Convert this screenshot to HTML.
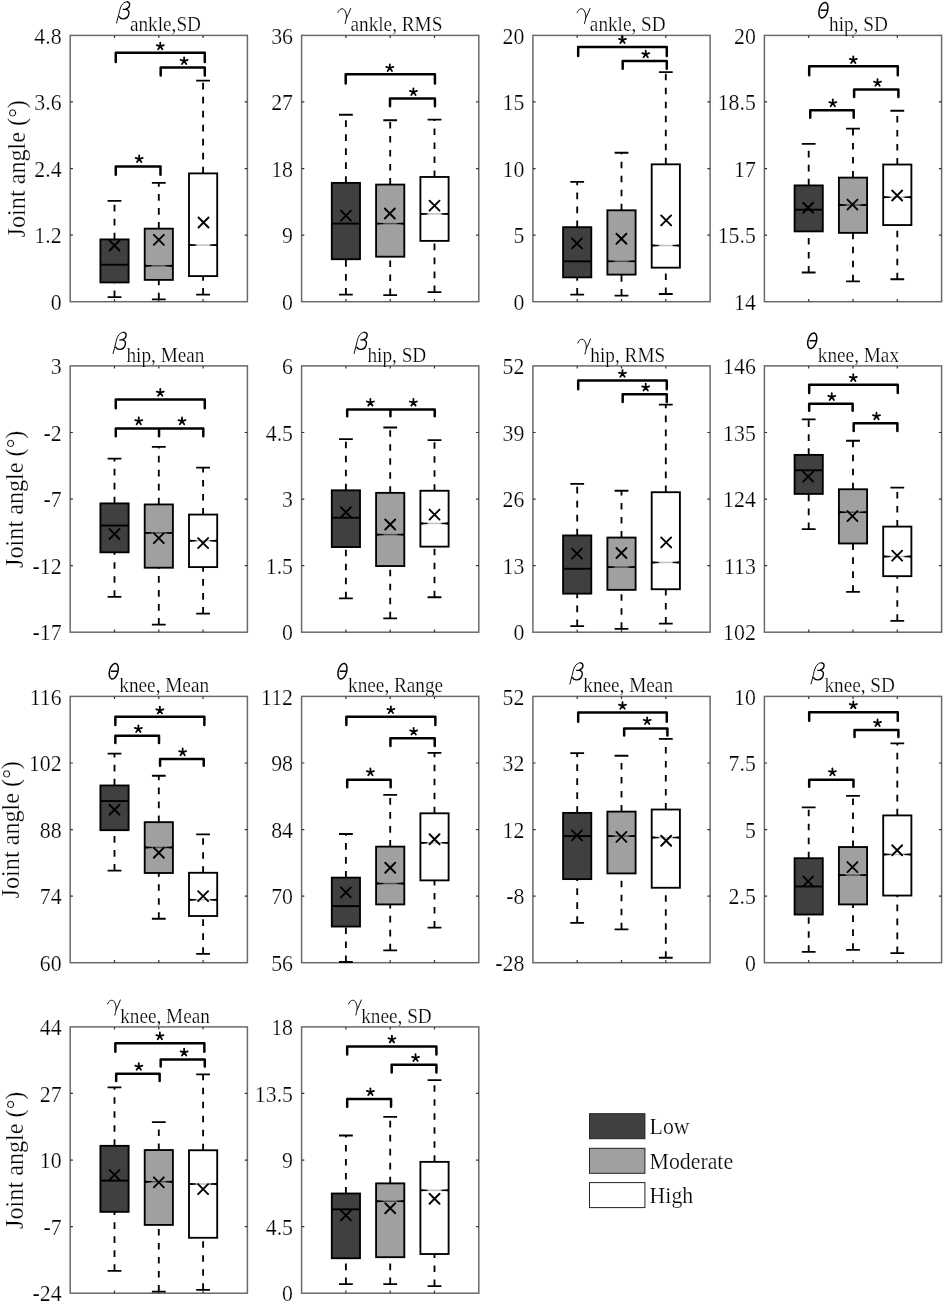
<!DOCTYPE html>
<html><head><meta charset="utf-8"><style>
html,body{margin:0;padding:0;background:#fff;}
svg{display:block;will-change:transform;}
text{font-family:"Liberation Serif",serif;fill:#000;stroke:#fff;stroke-width:0.22px;paint-order:fill stroke;}
.tl{font-size:21.8px;text-anchor:end;}
.sb{font-size:19.25px;}
.yl{font-size:24.2px;text-anchor:middle;}
.lg{font-size:21.8px;}
.wh{stroke:#000;stroke-width:1.85;stroke-dasharray:6.6 7.4;fill:none;}
.cap{stroke:#000;stroke-width:1.8;fill:none;}
.bx{stroke:#000;stroke-width:1.85;}
.md{stroke-width:1.5;fill:none;}
.mk{stroke:#000;stroke-width:1.9;fill:none;stroke-linecap:round;}
.br{stroke:#000;stroke-width:2.5;fill:none;stroke-linejoin:round;stroke-linecap:round;}
</style></head><body>
<svg width="944" height="1304" viewBox="0 0 944 1304">
<defs><path id="star" d="M0 0L0 -3.7M0 0L3.52 -1.14M0 0L2.17 2.99M0 0L-2.17 2.99M0 0L-3.52 -1.14" stroke="#000" stroke-width="1.8" stroke-linecap="round" fill="none"/><linearGradient id="m0" x1="0" x2="1" y1="0" y2="0"><stop offset="0" stop-color="#000"/><stop offset="0.2" stop-color="#000"/><stop offset="0.3" stop-color="#000000"/><stop offset="0.7" stop-color="#000000"/><stop offset="0.8" stop-color="#000"/><stop offset="1" stop-color="#000"/></linearGradient><linearGradient id="m1" x1="0" x2="1" y1="0" y2="0"><stop offset="0" stop-color="#000"/><stop offset="0.2" stop-color="#000"/><stop offset="0.3" stop-color="#505050"/><stop offset="0.7" stop-color="#505050"/><stop offset="0.8" stop-color="#000"/><stop offset="1" stop-color="#000"/></linearGradient><linearGradient id="m2" x1="0" x2="1" y1="0" y2="0"><stop offset="0" stop-color="#000"/><stop offset="0.2" stop-color="#000"/><stop offset="0.3" stop-color="#c0c0c0"/><stop offset="0.7" stop-color="#c0c0c0"/><stop offset="0.8" stop-color="#000"/><stop offset="1" stop-color="#000"/></linearGradient><g id="g_b" fill="none" stroke="#000" stroke-linecap="round"><path d="M0 4.8L2.44 -4.7C3.24 -8.7 4.24 -12.2 6.04 -14.2C7.54 -15.8 9.34 -16.6 10.84 -16.4" stroke-width="0.95"/><path d="M10.84 -16.4C12.34 -16.2 13.24 -15.0 13.04 -13.2C12.84 -11.2 11.34 -9.6 9.24 -9.0L6.84 -8.8M9.54 -8.9C11.64 -8.4 12.64 -6.9 12.34 -4.9C12.04 -2.4 10.24 0.1 7.34 0.6C5.44 0.9 3.64 0.2 2.64 -1.6" stroke-width="1.35"/></g>
<path id="g_g" d="M0 -5.7C1.2 -9.2 4.5 -10.8 6.8 -8.0C8.3 -5.5 8.8 -2.5 8.5 0C8.2 2.0 7.6 3.8 7.2 5.3M12.75 -9.7C11.5 -6.5 10.0 -3.0 8.5 0" fill="none" stroke="#000" stroke-width="0.95" stroke-linecap="round"/>
<g id="g_t" fill="none" stroke="#000" stroke-width="1.5"><ellipse cx="5.3" cy="-7.95" rx="4.2" ry="8.0" transform="rotate(15.4 5.3 -7.95)"/><path d="M2.5 -8H9.3"/></g></defs>
<rect x="70.2" y="35.4" width="177.2" height="266.3" fill="none" stroke="#6a6a6a" stroke-width="1.5"/>
<path d="M114.5 35.4v2.7M114.5 301.7v-2.7M158.8 35.4v2.7M158.8 301.7v-2.7M203.1 35.4v2.7M203.1 301.7v-2.7M70.2 235.12h2.7M247.4 235.12h-2.7M70.2 168.55h2.7M247.4 168.55h-2.7M70.2 101.97h2.7M247.4 101.97h-2.7" stroke="#333" stroke-width="1.2" fill="none"/>
<text transform="translate(61.6 309.9) scale(1 1.06)" class="tl">0</text>
<text transform="translate(61.6 243.32) scale(1 1.06)" class="tl">1.2</text>
<text transform="translate(61.6 176.75) scale(1 1.06)" class="tl">2.4</text>
<text transform="translate(61.6 110.17) scale(1 1.06)" class="tl">3.6</text>
<text transform="translate(61.6 43.6) scale(1 1.06)" class="tl">4.8</text>
<use href="#g_b" x="116.55" y="18.2"/>
<text transform="translate(129.95 31.1) scale(1 1.05)" class="sb">ankle,SD</text>
<path d="M114.5 239.41V200.81 M114.5 297.19V282.43" class="wh"/>
<path d="M107.6 200.81h13.8 M107.6 297.19h13.8" class="cap"/>
<rect x="100.4" y="239.41" width="28.2" height="43.02" fill="#404040" class="bx"/>
<rect x="100.4" y="263.76" width="28.2" height="1.9" fill="url(#m0)"/>
<path d="M109.51 240.52l10 10M109.51 250.52l10 -10" class="mk"/>
<path d="M158.8 228.65V182.89 M158.8 299.3V279.89" class="wh"/>
<path d="M151.9 182.89h13.8 M151.9 299.3h13.8" class="cap"/>
<rect x="144.7" y="228.65" width="28.2" height="51.24" fill="#a0a0a0" class="bx"/>
<rect x="144.7" y="265.02" width="28.2" height="1.5" fill="url(#m1)"/>
<path d="M144.7 264.57v2.4l7.5 -1.2ZM172.9 264.57v2.4l-7.5 -1.2Z" fill="#000"/>
<path d="M153.81 234.83l10 10M153.81 244.83l10 -10" class="mk"/>
<path d="M203.1 173.4V80.61 M203.1 294.66V276.1" class="wh"/>
<path d="M196.2 80.61h13.8 M196.2 294.66h13.8" class="cap"/>
<rect x="189" y="173.4" width="28.2" height="102.7" fill="#ffffff" class="bx"/>
<rect x="189" y="244.35" width="28.2" height="1.5" fill="url(#m2)"/>
<path d="M189 243.9v2.4l7.5 -1.2ZM217.2 243.9v2.4l-7.5 -1.2Z" fill="#000"/>
<path d="M198.52 217.53l10 10M198.52 227.53l10 -10" class="mk"/>
<path d="M115.77 61.89V52.64H204.78V61.89" class="br"/>
<path d="M160.69 75.59V67.4H204.78V75.59" class="br"/>
<path d="M115.77 174.71V166.52H160.48V174.71" class="br"/>
<use href="#star" x="160.28" y="46.27"/>
<use href="#star" x="184.12" y="61.03"/>
<use href="#star" x="139.19" y="159.09"/>
<rect x="301.6" y="35.4" width="177.2" height="266.3" fill="none" stroke="#6a6a6a" stroke-width="1.5"/>
<path d="M345.9 35.4v2.7M345.9 301.7v-2.7M390.2 35.4v2.7M390.2 301.7v-2.7M434.5 35.4v2.7M434.5 301.7v-2.7M301.6 235.12h2.7M478.8 235.12h-2.7M301.6 168.55h2.7M478.8 168.55h-2.7M301.6 101.97h2.7M478.8 101.97h-2.7" stroke="#333" stroke-width="1.2" fill="none"/>
<text transform="translate(293 309.9) scale(1 1.06)" class="tl">0</text>
<text transform="translate(293 243.32) scale(1 1.06)" class="tl">9</text>
<text transform="translate(293 176.75) scale(1 1.06)" class="tl">18</text>
<text transform="translate(293 110.17) scale(1 1.06)" class="tl">27</text>
<text transform="translate(293 43.6) scale(1 1.06)" class="tl">36</text>
<use href="#g_g" x="337.91" y="18.2"/>
<text transform="translate(350.51 31.1) scale(1 1.05)" class="sb">ankle, RMS</text>
<path d="M345.9 182.89V114.77 M345.9 294.66V259.23" class="wh"/>
<path d="M339 114.77h13.8 M339 294.66h13.8" class="cap"/>
<rect x="331.8" y="182.89" width="28.2" height="76.34" fill="#404040" class="bx"/>
<rect x="331.8" y="222.64" width="28.2" height="1.9" fill="url(#m0)"/>
<path d="M340.93 210.58l10 10M340.93 220.58l10 -10" class="mk"/>
<path d="M390.2 184.58V120.26 M390.2 295.08V256.7" class="wh"/>
<path d="M383.3 120.26h13.8 M383.3 295.08h13.8" class="cap"/>
<rect x="376.1" y="184.58" width="28.2" height="72.12" fill="#a0a0a0" class="bx"/>
<rect x="376.1" y="222.84" width="28.2" height="1.5" fill="url(#m1)"/>
<path d="M376.1 222.39v2.4l7.5 -1.2ZM404.3 222.39v2.4l-7.5 -1.2Z" fill="#000"/>
<path d="M384.81 208.47l10 10M384.81 218.47l10 -10" class="mk"/>
<path d="M434.5 176.98V119.62 M434.5 292.13V240.88" class="wh"/>
<path d="M427.6 119.62h13.8 M427.6 292.13h13.8" class="cap"/>
<rect x="420.4" y="176.98" width="28.2" height="63.9" fill="#ffffff" class="bx"/>
<rect x="420.4" y="213.14" width="28.2" height="1.5" fill="url(#m2)"/>
<path d="M420.4 212.69v2.4l7.5 -1.2ZM448.6 212.69v2.4l-7.5 -1.2Z" fill="#000"/>
<path d="M429.52 200.66l10 10M429.52 210.66l10 -10" class="mk"/>
<path d="M345.71 83.61V74.36H434.93V83.61" class="br"/>
<path d="M390.01 106.17V98.4H434.93V106.17" class="br"/>
<use href="#star" x="389.81" y="67.99"/>
<use href="#star" x="413.43" y="92.03"/>
<rect x="532.9" y="35.4" width="177.2" height="266.3" fill="none" stroke="#6a6a6a" stroke-width="1.5"/>
<path d="M577.2 35.4v2.7M577.2 301.7v-2.7M621.5 35.4v2.7M621.5 301.7v-2.7M665.8 35.4v2.7M665.8 301.7v-2.7M532.9 235.12h2.7M710.1 235.12h-2.7M532.9 168.55h2.7M710.1 168.55h-2.7M532.9 101.97h2.7M710.1 101.97h-2.7" stroke="#333" stroke-width="1.2" fill="none"/>
<text transform="translate(524.3 309.9) scale(1 1.06)" class="tl">0</text>
<text transform="translate(524.3 243.32) scale(1 1.06)" class="tl">5</text>
<text transform="translate(524.3 176.75) scale(1 1.06)" class="tl">10</text>
<text transform="translate(524.3 110.17) scale(1 1.06)" class="tl">15</text>
<text transform="translate(524.3 43.6) scale(1 1.06)" class="tl">20</text>
<use href="#g_g" x="577.24" y="18.2"/>
<text transform="translate(589.84 31.1) scale(1 1.05)" class="sb">ankle, SD</text>
<path d="M577.2 227.17V181.83 M577.2 294.66V277.36" class="wh"/>
<path d="M570.3 181.83h13.8 M570.3 294.66h13.8" class="cap"/>
<rect x="563.1" y="227.17" width="28.2" height="50.19" fill="#404040" class="bx"/>
<rect x="563.1" y="260.39" width="28.2" height="1.9" fill="url(#m0)"/>
<path d="M571.93 238.41l10 10M571.93 248.41l10 -10" class="mk"/>
<path d="M621.5 210.3V152.73 M621.5 295.71V274.62" class="wh"/>
<path d="M614.6 152.73h13.8 M614.6 295.71h13.8" class="cap"/>
<rect x="607.4" y="210.3" width="28.2" height="64.32" fill="#a0a0a0" class="bx"/>
<rect x="607.4" y="260.59" width="28.2" height="1.5" fill="url(#m1)"/>
<path d="M607.4 260.14v2.4l7.5 -1.2ZM635.6 260.14v2.4l-7.5 -1.2Z" fill="#000"/>
<path d="M616.44 233.77l10 10M616.44 243.77l10 -10" class="mk"/>
<path d="M665.8 164.33V72.18 M665.8 294.02V267.66" class="wh"/>
<path d="M658.9 72.18h13.8 M658.9 294.02h13.8" class="cap"/>
<rect x="651.7" y="164.33" width="28.2" height="103.33" fill="#ffffff" class="bx"/>
<rect x="651.7" y="244.77" width="28.2" height="1.5" fill="url(#m2)"/>
<path d="M651.7 244.32v2.4l7.5 -1.2ZM679.9 244.32v2.4l-7.5 -1.2Z" fill="#000"/>
<path d="M661.16 215.43l10 10M661.16 225.43l10 -10" class="mk"/>
<path d="M578.19 55.98V46.95H666.78V55.98" class="br"/>
<path d="M622.69 68.85V61.08H666.78V68.85" class="br"/>
<use href="#star" x="622.49" y="39.94"/>
<use href="#star" x="645.7" y="54.28"/>
<rect x="764.4" y="35.4" width="177.2" height="266.3" fill="none" stroke="#6a6a6a" stroke-width="1.5"/>
<path d="M808.7 35.4v2.7M808.7 301.7v-2.7M853 35.4v2.7M853 301.7v-2.7M897.3 35.4v2.7M897.3 301.7v-2.7M764.4 235.12h2.7M941.6 235.12h-2.7M764.4 168.55h2.7M941.6 168.55h-2.7M764.4 101.97h2.7M941.6 101.97h-2.7" stroke="#333" stroke-width="1.2" fill="none"/>
<text transform="translate(755.8 309.9) scale(1 1.06)" class="tl">14</text>
<text transform="translate(755.8 243.32) scale(1 1.06)" class="tl">15.5</text>
<text transform="translate(755.8 176.75) scale(1 1.06)" class="tl">17</text>
<text transform="translate(755.8 110.17) scale(1 1.06)" class="tl">18.5</text>
<text transform="translate(755.8 43.6) scale(1 1.06)" class="tl">20</text>
<use href="#g_t" x="818.13" y="18.2"/>
<text transform="translate(829.03 31.1) scale(1 1.05)" class="sb">hip, SD</text>
<path d="M808.7 185.42V143.88 M808.7 272.51V231.39" class="wh"/>
<path d="M801.8 143.88h13.8 M801.8 272.51h13.8" class="cap"/>
<rect x="794.6" y="185.42" width="28.2" height="45.97" fill="#404040" class="bx"/>
<rect x="794.6" y="208.72" width="28.2" height="1.9" fill="url(#m0)"/>
<path d="M803.15 202.77l10 10M803.15 212.77l10 -10" class="mk"/>
<path d="M853 177.62V128.69 M853 281.37V232.87" class="wh"/>
<path d="M846.1 128.69h13.8 M846.1 281.37h13.8" class="cap"/>
<rect x="838.9" y="177.62" width="28.2" height="55.25" fill="#a0a0a0" class="bx"/>
<rect x="838.9" y="204.28" width="28.2" height="1.5" fill="url(#m1)"/>
<path d="M838.9 203.83v2.4l7.5 -1.2ZM867.1 203.83v2.4l-7.5 -1.2Z" fill="#000"/>
<path d="M847.44 199.61l10 10M847.44 209.61l10 -10" class="mk"/>
<path d="M897.3 164.54V110.77 M897.3 279.26V225.07" class="wh"/>
<path d="M890.4 110.77h13.8 M890.4 279.26h13.8" class="cap"/>
<rect x="883.2" y="164.54" width="28.2" height="60.52" fill="#ffffff" class="bx"/>
<rect x="883.2" y="196.48" width="28.2" height="1.5" fill="url(#m2)"/>
<path d="M883.2 196.03v2.4l7.5 -1.2ZM911.4 196.03v2.4l-7.5 -1.2Z" fill="#000"/>
<path d="M892.16 190.54l10 10M892.16 200.54l10 -10" class="mk"/>
<path d="M809.19 75.17V66.35H897.78V75.17" class="br"/>
<path d="M854.12 97.1V89.55H898.41V97.1" class="br"/>
<path d="M810.24 117.77V110.21H853.69V117.77" class="br"/>
<use href="#star" x="853.28" y="59.98"/>
<use href="#star" x="877.54" y="82.75"/>
<use href="#star" x="832.82" y="103.21"/>
<rect x="70.2" y="365.9" width="177.2" height="266.3" fill="none" stroke="#6a6a6a" stroke-width="1.5"/>
<path d="M114.5 365.9v2.7M114.5 632.2v-2.7M158.8 365.9v2.7M158.8 632.2v-2.7M203.1 365.9v2.7M203.1 632.2v-2.7M70.2 565.62h2.7M247.4 565.62h-2.7M70.2 499.05h2.7M247.4 499.05h-2.7M70.2 432.48h2.7M247.4 432.48h-2.7" stroke="#333" stroke-width="1.2" fill="none"/>
<text transform="translate(61.6 640.4) scale(1 1.06)" class="tl">-17</text>
<text transform="translate(61.6 573.83) scale(1 1.06)" class="tl">-12</text>
<text transform="translate(61.6 507.25) scale(1 1.06)" class="tl">-7</text>
<text transform="translate(61.6 440.68) scale(1 1.06)" class="tl">-2</text>
<text transform="translate(61.6 374.1) scale(1 1.06)" class="tl">3</text>
<use href="#g_b" x="113.07" y="348.7"/>
<text transform="translate(126.47 361.6) scale(1 1.05)" class="sb">hip, Mean</text>
<path d="M114.5 503.4V458.69 M114.5 596.82V552.32" class="wh"/>
<path d="M107.6 458.69h13.8 M107.6 596.82h13.8" class="cap"/>
<rect x="100.4" y="503.4" width="28.2" height="48.92" fill="#404040" class="bx"/>
<rect x="100.4" y="524.59" width="28.2" height="1.9" fill="url(#m0)"/>
<path d="M109.51 528.98l10 10M109.51 538.98l10 -10" class="mk"/>
<path d="M158.8 504.45V446.88 M158.8 624.66V567.72" class="wh"/>
<path d="M151.9 446.88h13.8 M151.9 624.66h13.8" class="cap"/>
<rect x="144.7" y="504.45" width="28.2" height="63.26" fill="#a0a0a0" class="bx"/>
<rect x="144.7" y="532.17" width="28.2" height="1.5" fill="url(#m1)"/>
<path d="M144.7 531.72v2.4l7.5 -1.2ZM172.9 531.72v2.4l-7.5 -1.2Z" fill="#000"/>
<path d="M153.81 533.19l10 10M153.81 543.19l10 -10" class="mk"/>
<path d="M203.1 514.58V467.55 M203.1 613.69V567.09" class="wh"/>
<path d="M196.2 467.55h13.8 M196.2 613.69h13.8" class="cap"/>
<rect x="189" y="514.58" width="28.2" height="52.51" fill="#ffffff" class="bx"/>
<rect x="189" y="539.98" width="28.2" height="1.5" fill="url(#m2)"/>
<path d="M189 539.53v2.4l7.5 -1.2ZM217.2 539.53v2.4l-7.5 -1.2Z" fill="#000"/>
<path d="M198.1 538.05l10 10M198.1 548.05l10 -10" class="mk"/>
<path d="M115.77 408.34V399.51H204.78V408.34" class="br"/>
<path d="M115.77 436.17V428.4H203.3V436.17M159.01 428.4V436.17" class="br"/>
<use href="#star" x="160.28" y="392.72"/>
<use href="#star" x="138.77" y="421.19"/>
<use href="#star" x="182.01" y="421.19"/>
<rect x="301.6" y="365.9" width="177.2" height="266.3" fill="none" stroke="#6a6a6a" stroke-width="1.5"/>
<path d="M345.9 365.9v2.7M345.9 632.2v-2.7M390.2 365.9v2.7M390.2 632.2v-2.7M434.5 365.9v2.7M434.5 632.2v-2.7M301.6 565.62h2.7M478.8 565.62h-2.7M301.6 499.05h2.7M478.8 499.05h-2.7M301.6 432.48h2.7M478.8 432.48h-2.7" stroke="#333" stroke-width="1.2" fill="none"/>
<text transform="translate(293 640.4) scale(1 1.06)" class="tl">0</text>
<text transform="translate(293 573.83) scale(1 1.06)" class="tl">1.5</text>
<text transform="translate(293 507.25) scale(1 1.06)" class="tl">3</text>
<text transform="translate(293 440.68) scale(1 1.06)" class="tl">4.5</text>
<text transform="translate(293 374.1) scale(1 1.06)" class="tl">6</text>
<use href="#g_b" x="354.08" y="348.7"/>
<text transform="translate(367.48 361.6) scale(1 1.05)" class="sb">hip, SD</text>
<path d="M345.9 490.32V439.08 M345.9 598.3V547.05" class="wh"/>
<path d="M339 439.08h13.8 M339 598.3h13.8" class="cap"/>
<rect x="331.8" y="490.32" width="28.2" height="56.73" fill="#404040" class="bx"/>
<rect x="331.8" y="516.79" width="28.2" height="1.9" fill="url(#m0)"/>
<path d="M340.93 507.26l10 10M340.93 517.26l10 -10" class="mk"/>
<path d="M390.2 492.86V427.48 M390.2 618.33V566.03" class="wh"/>
<path d="M383.3 427.48h13.8 M383.3 618.33h13.8" class="cap"/>
<rect x="376.1" y="492.86" width="28.2" height="73.18" fill="#a0a0a0" class="bx"/>
<rect x="376.1" y="533.86" width="28.2" height="1.5" fill="url(#m1)"/>
<path d="M376.1 533.41v2.4l7.5 -1.2ZM404.3 533.41v2.4l-7.5 -1.2Z" fill="#000"/>
<path d="M385.23 519.49l10 10M385.23 529.49l10 -10" class="mk"/>
<path d="M434.5 490.75V440.13 M434.5 597.24V546.63" class="wh"/>
<path d="M427.6 440.13h13.8 M427.6 597.24h13.8" class="cap"/>
<rect x="420.4" y="490.75" width="28.2" height="55.88" fill="#ffffff" class="bx"/>
<rect x="420.4" y="522.68" width="28.2" height="1.5" fill="url(#m2)"/>
<path d="M420.4 522.23v2.4l7.5 -1.2ZM448.6 522.23v2.4l-7.5 -1.2Z" fill="#000"/>
<path d="M429.52 509.58l10 10M429.52 519.58l10 -10" class="mk"/>
<path d="M347.19 416.14V409.42H434.72V416.14M390.43 409.42V416.14" class="br"/>
<use href="#star" x="370.4" y="402.63"/>
<use href="#star" x="413.43" y="402.63"/>
<rect x="532.9" y="365.9" width="177.2" height="266.3" fill="none" stroke="#6a6a6a" stroke-width="1.5"/>
<path d="M577.2 365.9v2.7M577.2 632.2v-2.7M621.5 365.9v2.7M621.5 632.2v-2.7M665.8 365.9v2.7M665.8 632.2v-2.7M532.9 565.62h2.7M710.1 565.62h-2.7M532.9 499.05h2.7M710.1 499.05h-2.7M532.9 432.48h2.7M710.1 432.48h-2.7" stroke="#333" stroke-width="1.2" fill="none"/>
<text transform="translate(524.3 640.4) scale(1 1.06)" class="tl">0</text>
<text transform="translate(524.3 573.83) scale(1 1.06)" class="tl">13</text>
<text transform="translate(524.3 507.25) scale(1 1.06)" class="tl">26</text>
<text transform="translate(524.3 440.68) scale(1 1.06)" class="tl">39</text>
<text transform="translate(524.3 374.1) scale(1 1.06)" class="tl">52</text>
<use href="#g_g" x="577.76" y="348.7"/>
<text transform="translate(590.36 361.6) scale(1 1.05)" class="sb">hip, RMS</text>
<path d="M577.2 535.45V483.79 M577.2 626.13V593.66" class="wh"/>
<path d="M570.3 483.79h13.8 M570.3 626.13h13.8" class="cap"/>
<rect x="563.1" y="535.45" width="28.2" height="58.2" fill="#404040" class="bx"/>
<rect x="563.1" y="567.82" width="28.2" height="1.9" fill="url(#m0)"/>
<path d="M571.93 548.59l10 10M571.93 558.59l10 -10" class="mk"/>
<path d="M621.5 537.56V490.75 M621.5 628.87V589.86" class="wh"/>
<path d="M614.6 490.75h13.8 M614.6 628.87h13.8" class="cap"/>
<rect x="607.4" y="537.56" width="28.2" height="52.3" fill="#a0a0a0" class="bx"/>
<rect x="607.4" y="566.34" width="28.2" height="1.5" fill="url(#m1)"/>
<path d="M607.4 565.89v2.4l7.5 -1.2ZM635.6 565.89v2.4l-7.5 -1.2Z" fill="#000"/>
<path d="M616.44 547.96l10 10M616.44 557.96l10 -10" class="mk"/>
<path d="M665.8 492.22V404.71 M665.8 623.6V589.23" class="wh"/>
<path d="M658.9 404.71h13.8 M658.9 623.6h13.8" class="cap"/>
<rect x="651.7" y="492.22" width="28.2" height="97.01" fill="#ffffff" class="bx"/>
<rect x="651.7" y="561.7" width="28.2" height="1.5" fill="url(#m2)"/>
<path d="M651.7 561.25v2.4l7.5 -1.2ZM679.9 561.25v2.4l-7.5 -1.2Z" fill="#000"/>
<path d="M661.16 537.41l10 10M661.16 547.41l10 -10" class="mk"/>
<path d="M578.19 389.36V380.53H666.78V389.36" class="br"/>
<path d="M622.69 402.01V394.24H666.78V402.01" class="br"/>
<use href="#star" x="622.49" y="373.74"/>
<use href="#star" x="645.7" y="387.45"/>
<rect x="764.4" y="365.9" width="177.2" height="266.3" fill="none" stroke="#6a6a6a" stroke-width="1.5"/>
<path d="M808.7 365.9v2.7M808.7 632.2v-2.7M853 365.9v2.7M853 632.2v-2.7M897.3 365.9v2.7M897.3 632.2v-2.7M764.4 565.62h2.7M941.6 565.62h-2.7M764.4 499.05h2.7M941.6 499.05h-2.7M764.4 432.48h2.7M941.6 432.48h-2.7" stroke="#333" stroke-width="1.2" fill="none"/>
<text transform="translate(755.8 640.4) scale(1 1.06)" class="tl">102</text>
<text transform="translate(755.8 573.83) scale(1 1.06)" class="tl">113</text>
<text transform="translate(755.8 507.25) scale(1 1.06)" class="tl">124</text>
<text transform="translate(755.8 440.68) scale(1 1.06)" class="tl">135</text>
<text transform="translate(755.8 374.1) scale(1 1.06)" class="tl">146</text>
<use href="#g_t" x="806.93" y="348.7"/>
<text transform="translate(817.83 361.6) scale(1 1.05)" class="sb">knee, Max</text>
<path d="M808.7 454.9V419.47 M808.7 529.13V493.91" class="wh"/>
<path d="M801.8 419.47h13.8 M801.8 529.13h13.8" class="cap"/>
<rect x="794.6" y="454.9" width="28.2" height="39.01" fill="#404040" class="bx"/>
<rect x="794.6" y="469.34" width="28.2" height="1.9" fill="url(#m0)"/>
<path d="M803.15 471.62l10 10M803.15 481.62l10 -10" class="mk"/>
<path d="M853 489.27V440.77 M853 591.97V543.47" class="wh"/>
<path d="M846.1 440.77h13.8 M846.1 591.97h13.8" class="cap"/>
<rect x="838.9" y="489.27" width="28.2" height="54.2" fill="#a0a0a0" class="bx"/>
<rect x="838.9" y="511.51" width="28.2" height="1.5" fill="url(#m1)"/>
<path d="M838.9 511.06v2.4l7.5 -1.2ZM867.1 511.06v2.4l-7.5 -1.2Z" fill="#000"/>
<path d="M847.44 511.05l10 10M847.44 521.05l10 -10" class="mk"/>
<path d="M897.3 526.6V487.58 M897.3 620.86V576.15" class="wh"/>
<path d="M890.4 487.58h13.8 M890.4 620.86h13.8" class="cap"/>
<rect x="883.2" y="526.6" width="28.2" height="49.56" fill="#ffffff" class="bx"/>
<rect x="883.2" y="555.79" width="28.2" height="1.5" fill="url(#m2)"/>
<path d="M883.2 555.34v2.4l7.5 -1.2ZM911.4 555.34v2.4l-7.5 -1.2Z" fill="#000"/>
<path d="M892.16 550.7l10 10M892.16 560.7l10 -10" class="mk"/>
<path d="M809.19 392.94V384.75H897.78V392.94" class="br"/>
<path d="M809.19 410.87V403.73H852.64V410.87" class="br"/>
<path d="M853.69 430.9V423.34H897.36V430.9" class="br"/>
<use href="#star" x="853.28" y="377.96"/>
<use href="#star" x="831.77" y="396.94"/>
<use href="#star" x="876.49" y="416.34"/>
<rect x="70.2" y="696.4" width="177.2" height="266.3" fill="none" stroke="#6a6a6a" stroke-width="1.5"/>
<path d="M114.5 696.4v2.7M114.5 962.7v-2.7M158.8 696.4v2.7M158.8 962.7v-2.7M203.1 696.4v2.7M203.1 962.7v-2.7M70.2 896.12h2.7M247.4 896.12h-2.7M70.2 829.55h2.7M247.4 829.55h-2.7M70.2 762.98h2.7M247.4 762.98h-2.7" stroke="#333" stroke-width="1.2" fill="none"/>
<text transform="translate(61.6 970.9) scale(1 1.06)" class="tl">60</text>
<text transform="translate(61.6 904.33) scale(1 1.06)" class="tl">74</text>
<text transform="translate(61.6 837.75) scale(1 1.06)" class="tl">88</text>
<text transform="translate(61.6 771.18) scale(1 1.06)" class="tl">102</text>
<text transform="translate(61.6 704.6) scale(1 1.06)" class="tl">116</text>
<use href="#g_t" x="108.45" y="679.2"/>
<text transform="translate(119.35 692.1) scale(1 1.05)" class="sb">knee, Mean</text>
<path d="M114.5 785.47V753.63 M114.5 870.67V830.18" class="wh"/>
<path d="M107.6 753.63h13.8 M107.6 870.67h13.8" class="cap"/>
<rect x="100.4" y="785.47" width="28.2" height="44.71" fill="#404040" class="bx"/>
<rect x="100.4" y="800.13" width="28.2" height="1.9" fill="url(#m0)"/>
<path d="M109.51 804.73l10 10M109.51 814.73l10 -10" class="mk"/>
<path d="M158.8 822.17V775.77 M158.8 918.75V872.99" class="wh"/>
<path d="M151.9 775.77h13.8 M151.9 918.75h13.8" class="cap"/>
<rect x="144.7" y="822.17" width="28.2" height="50.82" fill="#a0a0a0" class="bx"/>
<rect x="144.7" y="846.72" width="28.2" height="1.5" fill="url(#m1)"/>
<path d="M144.7 846.27v2.4l7.5 -1.2ZM172.9 846.27v2.4l-7.5 -1.2Z" fill="#000"/>
<path d="M153.81 847.75l10 10M153.81 857.75l10 -10" class="mk"/>
<path d="M203.1 872.78V834.4 M203.1 953.97V916.01" class="wh"/>
<path d="M196.2 834.4h13.8 M196.2 953.97h13.8" class="cap"/>
<rect x="189" y="872.78" width="28.2" height="43.23" fill="#ffffff" class="bx"/>
<rect x="189" y="899.02" width="28.2" height="1.5" fill="url(#m2)"/>
<path d="M189 898.57v2.4l7.5 -1.2ZM217.2 898.57v2.4l-7.5 -1.2Z" fill="#000"/>
<path d="M198.1 891.19l10 10M198.1 901.19l10 -10" class="mk"/>
<path d="M115.35 725V716.81H204.36V725" class="br"/>
<path d="M115.35 742.92V735.79H159.01V742.92" class="br"/>
<path d="M160.06 765.7V758.98H203.72V765.7" class="br"/>
<use href="#star" x="159.86" y="710.43"/>
<use href="#star" x="138.35" y="728.99"/>
<use href="#star" x="182.64" y="752.19"/>
<rect x="301.6" y="696.4" width="177.2" height="266.3" fill="none" stroke="#6a6a6a" stroke-width="1.5"/>
<path d="M345.9 696.4v2.7M345.9 962.7v-2.7M390.2 696.4v2.7M390.2 962.7v-2.7M434.5 696.4v2.7M434.5 962.7v-2.7M301.6 896.12h2.7M478.8 896.12h-2.7M301.6 829.55h2.7M478.8 829.55h-2.7M301.6 762.98h2.7M478.8 762.98h-2.7" stroke="#333" stroke-width="1.2" fill="none"/>
<text transform="translate(293 970.9) scale(1 1.06)" class="tl">56</text>
<text transform="translate(293 904.33) scale(1 1.06)" class="tl">70</text>
<text transform="translate(293 837.75) scale(1 1.06)" class="tl">84</text>
<text transform="translate(293 771.18) scale(1 1.06)" class="tl">98</text>
<text transform="translate(293 704.6) scale(1 1.06)" class="tl">112</text>
<use href="#g_t" x="337.18" y="679.2"/>
<text transform="translate(348.08 692.1) scale(1 1.05)" class="sb">knee, Range</text>
<path d="M345.9 877.63V833.98 M345.9 961.98V926.55" class="wh"/>
<path d="M339 833.98h13.8 M339 961.98h13.8" class="cap"/>
<rect x="331.8" y="877.63" width="28.2" height="48.92" fill="#404040" class="bx"/>
<rect x="331.8" y="905.15" width="28.2" height="1.9" fill="url(#m0)"/>
<path d="M340.93 887.39l10 10M340.93 897.39l10 -10" class="mk"/>
<path d="M390.2 846.63V794.96 M390.2 950.38V904.41" class="wh"/>
<path d="M383.3 794.96h13.8 M383.3 950.38h13.8" class="cap"/>
<rect x="376.1" y="846.63" width="28.2" height="57.78" fill="#a0a0a0" class="bx"/>
<rect x="376.1" y="882.78" width="28.2" height="1.5" fill="url(#m1)"/>
<path d="M376.1 882.33v2.4l7.5 -1.2ZM404.3 882.33v2.4l-7.5 -1.2Z" fill="#000"/>
<path d="M385.23 862.72l10 10M385.23 872.72l10 -10" class="mk"/>
<path d="M434.5 813.31V752.79 M434.5 927.61V880.37" class="wh"/>
<path d="M427.6 752.79h13.8 M427.6 927.61h13.8" class="cap"/>
<rect x="420.4" y="813.31" width="28.2" height="67.06" fill="#ffffff" class="bx"/>
<rect x="420.4" y="842.08" width="28.2" height="1.5" fill="url(#m2)"/>
<path d="M420.4 841.63v2.4l7.5 -1.2ZM448.6 841.63v2.4l-7.5 -1.2Z" fill="#000"/>
<path d="M429.52 834.25l10 10M429.52 844.25l10 -10" class="mk"/>
<path d="M346.35 725V716.81H435.36V725" class="br"/>
<path d="M390.43 746.08V738.32H434.72V746.08" class="br"/>
<path d="M347.19 787.21V779.65H390.64V787.21" class="br"/>
<use href="#star" x="390.86" y="710.01"/>
<use href="#star" x="413.64" y="731.52"/>
<use href="#star" x="370.4" y="772.22"/>
<rect x="532.9" y="696.4" width="177.2" height="266.3" fill="none" stroke="#6a6a6a" stroke-width="1.5"/>
<path d="M577.2 696.4v2.7M577.2 962.7v-2.7M621.5 696.4v2.7M621.5 962.7v-2.7M665.8 696.4v2.7M665.8 962.7v-2.7M532.9 896.12h2.7M710.1 896.12h-2.7M532.9 829.55h2.7M710.1 829.55h-2.7M532.9 762.98h2.7M710.1 762.98h-2.7" stroke="#333" stroke-width="1.2" fill="none"/>
<text transform="translate(524.3 970.9) scale(1 1.06)" class="tl">-28</text>
<text transform="translate(524.3 904.33) scale(1 1.06)" class="tl">-8</text>
<text transform="translate(524.3 837.75) scale(1 1.06)" class="tl">12</text>
<text transform="translate(524.3 771.18) scale(1 1.06)" class="tl">32</text>
<text transform="translate(524.3 704.6) scale(1 1.06)" class="tl">52</text>
<use href="#g_b" x="569.9" y="679.2"/>
<text transform="translate(583.3 692.1) scale(1 1.05)" class="sb">knee, Mean</text>
<path d="M577.2 812.89V753.21 M577.2 922.97V879.11" class="wh"/>
<path d="M570.3 753.21h13.8 M570.3 922.97h13.8" class="cap"/>
<rect x="563.1" y="812.89" width="28.2" height="66.22" fill="#404040" class="bx"/>
<rect x="563.1" y="835.14" width="28.2" height="1.9" fill="url(#m0)"/>
<path d="M571.93 830.45l10 10M571.93 840.45l10 -10" class="mk"/>
<path d="M621.5 811.62V755.74 M621.5 929.3V873.41" class="wh"/>
<path d="M614.6 755.74h13.8 M614.6 929.3h13.8" class="cap"/>
<rect x="607.4" y="811.62" width="28.2" height="61.79" fill="#a0a0a0" class="bx"/>
<rect x="607.4" y="835.34" width="28.2" height="1.5" fill="url(#m1)"/>
<path d="M607.4 834.89v2.4l7.5 -1.2ZM635.6 834.89v2.4l-7.5 -1.2Z" fill="#000"/>
<path d="M616.44 831.93l10 10M616.44 841.93l10 -10" class="mk"/>
<path d="M665.8 809.52V738.87 M665.8 957.77V887.75" class="wh"/>
<path d="M658.9 738.87h13.8 M658.9 957.77h13.8" class="cap"/>
<rect x="651.7" y="809.52" width="28.2" height="78.24" fill="#ffffff" class="bx"/>
<rect x="651.7" y="836.81" width="28.2" height="1.5" fill="url(#m2)"/>
<path d="M651.7 836.36v2.4l7.5 -1.2ZM679.9 836.36v2.4l-7.5 -1.2Z" fill="#000"/>
<path d="M661.16 835.73l10 10M661.16 845.73l10 -10" class="mk"/>
<path d="M578.19 721.83V712.59H666.78V721.83" class="br"/>
<path d="M624.17 735.54V728.4H667.41V735.54" class="br"/>
<use href="#star" x="622.49" y="705.79"/>
<use href="#star" x="647.17" y="720.98"/>
<rect x="764.4" y="696.4" width="177.2" height="266.3" fill="none" stroke="#6a6a6a" stroke-width="1.5"/>
<path d="M808.7 696.4v2.7M808.7 962.7v-2.7M853 696.4v2.7M853 962.7v-2.7M897.3 696.4v2.7M897.3 962.7v-2.7M764.4 896.12h2.7M941.6 896.12h-2.7M764.4 829.55h2.7M941.6 829.55h-2.7M764.4 762.98h2.7M941.6 762.98h-2.7" stroke="#333" stroke-width="1.2" fill="none"/>
<text transform="translate(755.8 970.9) scale(1 1.06)" class="tl">0</text>
<text transform="translate(755.8 904.33) scale(1 1.06)" class="tl">2.5</text>
<text transform="translate(755.8 837.75) scale(1 1.06)" class="tl">5</text>
<text transform="translate(755.8 771.18) scale(1 1.06)" class="tl">7.5</text>
<text transform="translate(755.8 704.6) scale(1 1.06)" class="tl">10</text>
<use href="#g_b" x="811.01" y="679.2"/>
<text transform="translate(824.41 692.1) scale(1 1.05)" class="sb">knee, SD</text>
<path d="M808.7 858.23V807.41 M808.7 951.86V914.53" class="wh"/>
<path d="M801.8 807.41h13.8 M801.8 951.86h13.8" class="cap"/>
<rect x="794.6" y="858.23" width="28.2" height="56.31" fill="#404040" class="bx"/>
<rect x="794.6" y="885.54" width="28.2" height="1.9" fill="url(#m0)"/>
<path d="M803.15 876.43l10 10M803.15 886.43l10 -10" class="mk"/>
<path d="M853 847.05V795.81 M853 949.96V904.41" class="wh"/>
<path d="M846.1 795.81h13.8 M846.1 949.96h13.8" class="cap"/>
<rect x="838.9" y="847.05" width="28.2" height="57.36" fill="#a0a0a0" class="bx"/>
<rect x="838.9" y="874.35" width="28.2" height="1.5" fill="url(#m1)"/>
<path d="M838.9 873.9v2.4l7.5 -1.2ZM867.1 873.9v2.4l-7.5 -1.2Z" fill="#000"/>
<path d="M847.44 862.09l10 10M847.44 872.09l10 -10" class="mk"/>
<path d="M897.3 815.42V743.3 M897.3 953.13V895.56" class="wh"/>
<path d="M890.4 743.3h13.8 M890.4 953.13h13.8" class="cap"/>
<rect x="883.2" y="815.42" width="28.2" height="80.13" fill="#ffffff" class="bx"/>
<rect x="883.2" y="853.68" width="28.2" height="1.5" fill="url(#m2)"/>
<path d="M883.2 853.23v2.4l7.5 -1.2ZM911.4 853.23v2.4l-7.5 -1.2Z" fill="#000"/>
<path d="M892.16 845.22l10 10M892.16 855.22l10 -10" class="mk"/>
<path d="M809.19 720.78V712.17H897.78V720.78" class="br"/>
<path d="M854.54 737.02V729.88H898.41V737.02" class="br"/>
<path d="M809.19 786.78V779.65H853.48V786.78" class="br"/>
<use href="#star" x="853.28" y="705.16"/>
<use href="#star" x="877.54" y="723.09"/>
<use href="#star" x="832.4" y="772.22"/>
<rect x="70.2" y="1026.9" width="177.2" height="266.3" fill="none" stroke="#6a6a6a" stroke-width="1.5"/>
<path d="M114.5 1026.9v2.7M114.5 1293.2v-2.7M158.8 1026.9v2.7M158.8 1293.2v-2.7M203.1 1026.9v2.7M203.1 1293.2v-2.7M70.2 1226.62h2.7M247.4 1226.62h-2.7M70.2 1160.05h2.7M247.4 1160.05h-2.7M70.2 1093.47h2.7M247.4 1093.47h-2.7" stroke="#333" stroke-width="1.2" fill="none"/>
<text transform="translate(61.6 1301.4) scale(1 1.06)" class="tl">-24</text>
<text transform="translate(61.6 1234.83) scale(1 1.06)" class="tl">-7</text>
<text transform="translate(61.6 1168.25) scale(1 1.06)" class="tl">10</text>
<text transform="translate(61.6 1101.67) scale(1 1.06)" class="tl">27</text>
<text transform="translate(61.6 1035.1) scale(1 1.06)" class="tl">44</text>
<use href="#g_g" x="107.6" y="1009.7"/>
<text transform="translate(120.2 1022.6) scale(1 1.05)" class="sb">knee, Mean</text>
<path d="M114.5 1145.84V1087.43 M114.5 1270.89V1211.85" class="wh"/>
<path d="M107.6 1087.43h13.8 M107.6 1270.89h13.8" class="cap"/>
<rect x="100.4" y="1145.84" width="28.2" height="66.01" fill="#404040" class="bx"/>
<rect x="100.4" y="1179.69" width="28.2" height="1.9" fill="url(#m0)"/>
<path d="M109.51 1169.94l10 10M109.51 1179.94l10 -10" class="mk"/>
<path d="M158.8 1150.06V1122.22 M158.8 1291.56V1224.92" class="wh"/>
<path d="M151.9 1122.22h13.8 M151.9 1291.56h13.8" class="cap"/>
<rect x="144.7" y="1150.06" width="28.2" height="74.86" fill="#a0a0a0" class="bx"/>
<rect x="144.7" y="1180.94" width="28.2" height="1.5" fill="url(#m1)"/>
<path d="M144.7 1180.49v2.4l7.5 -1.2ZM172.9 1180.49v2.4l-7.5 -1.2Z" fill="#000"/>
<path d="M153.81 1177.32l10 10M153.81 1187.32l10 -10" class="mk"/>
<path d="M203.1 1150.27V1074.35 M203.1 1289.87V1237.79" class="wh"/>
<path d="M196.2 1074.35h13.8 M196.2 1289.87h13.8" class="cap"/>
<rect x="189" y="1150.27" width="28.2" height="87.52" fill="#ffffff" class="bx"/>
<rect x="189" y="1183.26" width="28.2" height="1.5" fill="url(#m2)"/>
<path d="M189 1182.81v2.4l7.5 -1.2ZM217.2 1182.81v2.4l-7.5 -1.2Z" fill="#000"/>
<path d="M198.1 1184.07l10 10M198.1 1194.07l10 -10" class="mk"/>
<path d="M115.35 1051.83V1043.22H204.36V1051.83" class="br"/>
<path d="M160.69 1066.59V1059.46H204.78V1066.59" class="br"/>
<path d="M116.19 1080.93V1073.8H159.64V1080.93" class="br"/>
<use href="#star" x="159.86" y="1036.22"/>
<use href="#star" x="184.12" y="1052.45"/>
<use href="#star" x="138.77" y="1066.79"/>
<rect x="301.6" y="1026.9" width="177.2" height="266.3" fill="none" stroke="#6a6a6a" stroke-width="1.5"/>
<path d="M345.9 1026.9v2.7M345.9 1293.2v-2.7M390.2 1026.9v2.7M390.2 1293.2v-2.7M434.5 1026.9v2.7M434.5 1293.2v-2.7M301.6 1226.62h2.7M478.8 1226.62h-2.7M301.6 1160.05h2.7M478.8 1160.05h-2.7M301.6 1093.47h2.7M478.8 1093.47h-2.7" stroke="#333" stroke-width="1.2" fill="none"/>
<text transform="translate(293 1301.4) scale(1 1.06)" class="tl">0</text>
<text transform="translate(293 1234.83) scale(1 1.06)" class="tl">4.5</text>
<text transform="translate(293 1168.25) scale(1 1.06)" class="tl">9</text>
<text transform="translate(293 1101.67) scale(1 1.06)" class="tl">13.5</text>
<text transform="translate(293 1035.1) scale(1 1.06)" class="tl">18</text>
<use href="#g_g" x="348.61" y="1009.7"/>
<text transform="translate(361.21 1022.6) scale(1 1.05)" class="sb">knee, SD</text>
<path d="M345.9 1193.5V1135.51 M345.9 1284.18V1258.24" class="wh"/>
<path d="M339 1135.51h13.8 M339 1284.18h13.8" class="cap"/>
<rect x="331.8" y="1193.5" width="28.2" height="64.74" fill="#404040" class="bx"/>
<rect x="331.8" y="1208.37" width="28.2" height="1.9" fill="url(#m0)"/>
<path d="M340.93 1210.43l10 10M340.93 1220.43l10 -10" class="mk"/>
<path d="M390.2 1183.38V1116.95 M390.2 1284.18V1257.19" class="wh"/>
<path d="M383.3 1116.95h13.8 M383.3 1284.18h13.8" class="cap"/>
<rect x="376.1" y="1183.38" width="28.2" height="73.81" fill="#a0a0a0" class="bx"/>
<rect x="376.1" y="1200.55" width="28.2" height="1.5" fill="url(#m1)"/>
<path d="M376.1 1200.1v2.4l7.5 -1.2ZM404.3 1200.1v2.4l-7.5 -1.2Z" fill="#000"/>
<path d="M385.23 1203.26l10 10M385.23 1213.26l10 -10" class="mk"/>
<path d="M434.5 1161.87V1080.05 M434.5 1286.08V1254.02" class="wh"/>
<path d="M427.6 1080.05h13.8 M427.6 1286.08h13.8" class="cap"/>
<rect x="420.4" y="1161.87" width="28.2" height="92.16" fill="#ffffff" class="bx"/>
<rect x="420.4" y="1189.59" width="28.2" height="1.5" fill="url(#m2)"/>
<path d="M420.4 1189.14v2.4l7.5 -1.2ZM448.6 1189.14v2.4l-7.5 -1.2Z" fill="#000"/>
<path d="M429.52 1193.77l10 10M429.52 1203.77l10 -10" class="mk"/>
<path d="M347.19 1054.57V1046.38H436.41V1054.57" class="br"/>
<path d="M391.69 1072.5V1064.73H436.41V1072.5" class="br"/>
<path d="M347.19 1106.66V1099.1H391.06V1106.66" class="br"/>
<use href="#star" x="391.92" y="1039.38"/>
<use href="#star" x="415.54" y="1057.94"/>
<use href="#star" x="370.4" y="1092.1"/>
<text class="yl" transform="translate(24.6 168.75) rotate(-90) scale(1 1.0)">Joint angle (°)</text>
<text class="yl" transform="translate(22.8 499.25) rotate(-90) scale(1 1.0)">Joint angle (°)</text>
<text class="yl" transform="translate(19 829.75) rotate(-90) scale(1 1.0)">Joint angle (°)</text>
<text class="yl" transform="translate(22.8 1160.25) rotate(-90) scale(1 1.0)">Joint angle (°)</text>
<rect x="589.5" y="1113.7" width="55.4" height="25" fill="#404040" stroke="#222" stroke-width="1"/>
<text transform="translate(649.6 1134.3) scale(1 1.06)" class="lg">Low</text>
<rect x="589.5" y="1148.3" width="55.4" height="25" fill="#a0a0a0" stroke="#222" stroke-width="1"/>
<text transform="translate(649.6 1168.5) scale(1 1.06)" class="lg">Moderate</text>
<rect x="589.5" y="1182.6" width="55.4" height="25" fill="#fff" stroke="#222" stroke-width="1"/>
<text transform="translate(649.6 1203.1) scale(1 1.06)" class="lg">High</text>
</svg>
</body></html>
